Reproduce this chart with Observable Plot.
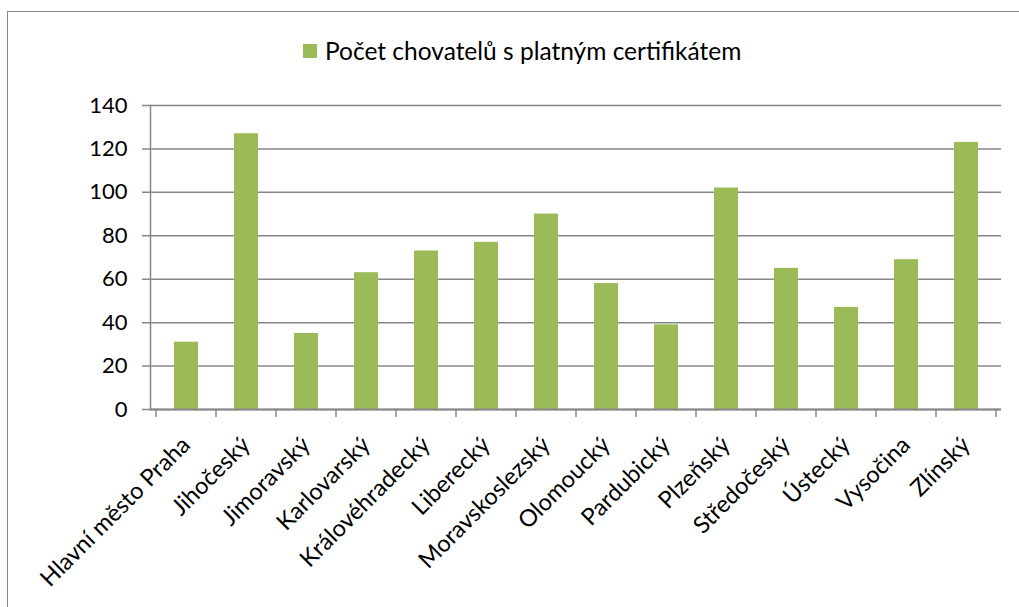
<!DOCTYPE html>
<html>
<head>
<meta charset="utf-8">
<script src="https://cdn.jsdelivr.net/npm/d3@7"></script>
<script src="https://cdn.jsdelivr.net/npm/@observablehq/plot@0.6"></script>
<style>
  html, body { margin: 0; padding: 0; background: #fff; }
  #wrap { position: relative; width: 1019px; height: 607px; overflow: hidden; font-family: Lato, "Open Sans", sans-serif; }
  #frame { position: absolute; left: 7px; top: 11px; width: 1100px; height: 700px; border: 1.5px solid #878787; box-sizing: border-box; }
  #legend { position: relative; height: 80px; }
  #legend .sw { position: absolute; left: 303px; top: 44px; width: 14px; height: 14px; background: #9BBB59; }
  #legend .lb { position: absolute; left: 325px; top: 36px; font-size: 24.5px; line-height: 30px; color: #000; white-space: nowrap; }
  #chart { position: relative; }
  #chart svg { display: block; }
</style>
</head>
<body>
<div id="wrap">
  <div id="frame"></div>
  <div id="legend"><div class="sw"></div><div class="lb" id="seriesName"></div></div>
  <div id="chart"></div>
</div>
<script>
const seriesName = "Počet chovatelů s platným certifikátem";
const categories = ["Hlavní město Praha","Jihočeský","Jimoravský","Karlovarský","Královéhradecký","Liberecký","Moravskoslezský","Olomoucký","Pardubický","Plzeňský","Středočeský","Ústecký","Vysočina","Zlínský"];
const values = [31,127,35,63,73,77,90,58,39,102,65,47,69,123];
const yTicks = [0,20,40,60,80,100,120,140];

document.getElementById("seriesName").textContent = seriesName;

const data = categories.map((c, i) => ({category: c, value: values[i]}));
const gridColor = "#878787";

// tick marks at category boundaries, below the x axis
function boundaryTicks(index, scales, values, dimensions) {
  const x = scales.x;
  const sx = scales.scales.x;
  const step = sx.step, bw = sx.bandwidth;
  const y0 = scales.y(0);
  const g = d3.create("svg:g").attr("stroke", gridColor).attr("stroke-width", 1.5);
  const xs = categories.map(c => x(c) - (step - bw) / 2);
  xs.push(x(categories[categories.length - 1]) + bw + (step - bw) / 2);
  for (const px of xs) {
    g.append("line").attr("x1", px).attr("x2", px).attr("y1", y0).attr("y2", y0 + 8);
  }
  return g.node();
}

const chart = Plot.plot({
  width: 1019,
  height: 527,
  marginTop: 25,
  marginBottom: 198,
  marginLeft: 150,
  marginRight: 18,
  style: {fontFamily: "Lato, 'Open Sans', sans-serif", fontSize: "22px", color: "#000", background: "transparent"},
  x: {domain: categories, paddingInner: 0.6, paddingOuter: 0.3, axis: null},
  y: {domain: [0, 140], axis: null},
  marks: [
    Plot.ruleY(yTicks, {stroke: gridColor, strokeWidth: 1.5, insetLeft: -8}),
    Plot.axisY({ticks: yTicks, tickSize: 0, tickPadding: 23, fontSize: 22, fill: "#000", label: null}),
    Plot.barY(data, {x: "category", y: "value", fill: "#9BBB59"}),
    Plot.frame({anchor: "left", stroke: gridColor, strokeWidth: 1.5}),
    Plot.ruleY([0], {stroke: gridColor, strokeWidth: 2}),
    boundaryTicks,
    Plot.text(categories, {x: d => d, frameAnchor: "bottom", rotate: -45, textAnchor: "end", lineAnchor: "bottom", dx: 5, dy: 37, fontSize: 23.5, fill: "#000"})
  ]
});
document.getElementById("chart").appendChild(chart);
</script>
</body>
</html>
